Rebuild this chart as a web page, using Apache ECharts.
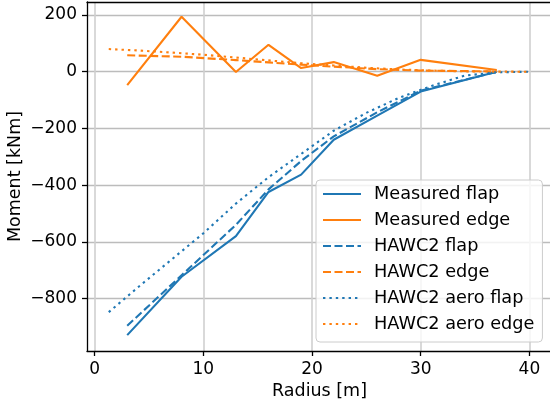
<!DOCTYPE html>
<html>
<head>
<meta charset="utf-8">
<script src="https://cdn.jsdelivr.net/npm/echarts@6/dist/echarts.min.js"></script>
<style>html,body{margin:0;padding:0;background:#fff}#c{width:550px;height:404px}</style>
</head>
<body>
<div id="c"></div>
<script>
// ---- data ----
const measRadius = [3, 8, 13, 16, 19, 22, 26, 30, 37];
const measuredFlap = [-929, -723, -580, -424, -363, -240, -155, -70, 0];
const measuredEdge = [-47, 194, -1, 95, 13, 34, -14, 42, 6];
const hawc2Flap = [-896, -718, -540, -415, -315, -228, -143, -67, 0];
const hawc2Edge = [58, 53, 41, 33, 25, 18, 9, 4, 1];
const aeroRadius = [1.3, 4, 7, 10, 13, 16, 19, 22, 25, 28, 31, 34, 37, 40];
const aeroFlap = [-848, -760, -665, -570, -465, -372, -290, -208, -145, -92, -50, -14, -2, 0];
const aeroEdge = [80, 75, 68, 60, 50, 40, 30, 22, 14, 8, 4, 1.5, 0.5, 0];
const xTicks = [0, 10, 20, 30, 40];
const yTicks = [-800, -600, -400, -200, 0, 200];
const seriesNames = ['Measured flap', 'Measured edge', 'HAWC2 flap', 'HAWC2 edge', 'HAWC2 aero flap', 'HAWC2 aero edge'];

const BLUE = '#1f77b4', ORANGE = '#ff7f0e';
const FONT = 'DejaVu Sans';
const pairs = (xs, ys) => xs.map((x, i) => [x, ys[i]]);
const DASH = [8, 3.5], DOT = [2.4, 4];

function mk(name, xs, ys, color, type) {
  return {
    name, type: 'line', data: pairs(xs, ys), symbol: 'none', showSymbol: false,
    lineStyle: { color, width: 2.1, type },
    itemStyle: { color },
    emphasis: { disabled: true }, z: 3
  };
}

const chart = echarts.init(document.getElementById('c'), null, { renderer: 'canvas' });
chart.setOption({
  animation: false,
  grid: { left: 87, right: -2, top: 2, bottom: 53, containLabel: false, outerBoundsMode: 'none' },
  xAxis: [{
    type: 'value', min: -0.7, max: 42.08, splitNumber: 5,
    name: 'Radius [m]', nameLocation: 'middle', nameGap: 31, nameMoveOverlap: false,
    nameTextStyle: { fontFamily: FONT, fontSize: 17.5, color: '#000' },
    axisLine: { show: true, onZero: false, lineStyle: { color: '#000', width: 1.3 } },
    axisTick: { show: true, length: 5, inside: false, customValues: xTicks, lineStyle: { color: '#000', width: 1.3 } },
    axisLabel: { customValues: xTicks, margin: 10, fontFamily: FONT, fontSize: 17, color: '#000' },
    splitLine: { show: true, lineStyle: { color: '#d0d0d0', width: 1.6 } }
  }, {
    type: 'value', position: 'top', min: -0.7, max: 42.08,
    axisLine: { show: true, onZero: false, lineStyle: { color: '#000', width: 1.3 } },
    axisTick: { show: false }, axisLabel: { show: false }, splitLine: { show: false }
  }],
  yAxis: {
    type: 'value', min: -985, max: 246, splitNumber: 5,
    name: 'Moment [kNm]', nameLocation: 'middle', nameGap: 63, nameMoveOverlap: false,
    nameTextStyle: { fontFamily: FONT, fontSize: 17.5, color: '#000' },
    axisLine: { show: true, onZero: false, lineStyle: { color: '#000', width: 1.3 } },
    axisTick: { show: true, length: 5, customValues: yTicks, lineStyle: { color: '#000', width: 1.3 } },
    axisLabel: {
      customValues: yTicks, margin: 10,
      fontFamily: FONT, fontSize: 17, color: '#000',
      formatter: v => String(v).replace('-', '\u2212')
    },
    splitLine: { show: true, lineStyle: { color: '#bcbcbc', width: 1.3 } }
  },
  legend: {
    data: seriesNames,
    orient: 'vertical', left: 316, top: 180,
    padding: [5, 8, 9, 6], itemGap: 8, itemWidth: 38, itemHeight: 18,
    itemStyle: { opacity: 0, color: 'rgba(0,0,0,0)', borderWidth: 0 },
    backgroundColor: 'rgba(255,255,255,0.8)', borderColor: '#cccccc', borderWidth: 1, borderRadius: 4,
    textStyle: { fontFamily: FONT, fontSize: 17.7, color: '#000', lineHeight: 18, padding: [0, 0, 0, 8] },
    selectedMode: false, z: 10
  },
  series: [
    mk(seriesNames[0], measRadius, measuredFlap, BLUE, 'solid'),
    mk(seriesNames[1], measRadius, measuredEdge, ORANGE, 'solid'),
    mk(seriesNames[2], measRadius, hawc2Flap, BLUE, DASH),
    mk(seriesNames[3], measRadius, hawc2Edge, ORANGE, DASH),
    mk(seriesNames[4], aeroRadius, aeroFlap, BLUE, DOT),
    mk(seriesNames[5], aeroRadius, aeroEdge, ORANGE, DOT)
  ]
});
</script>
</body>
</html>
